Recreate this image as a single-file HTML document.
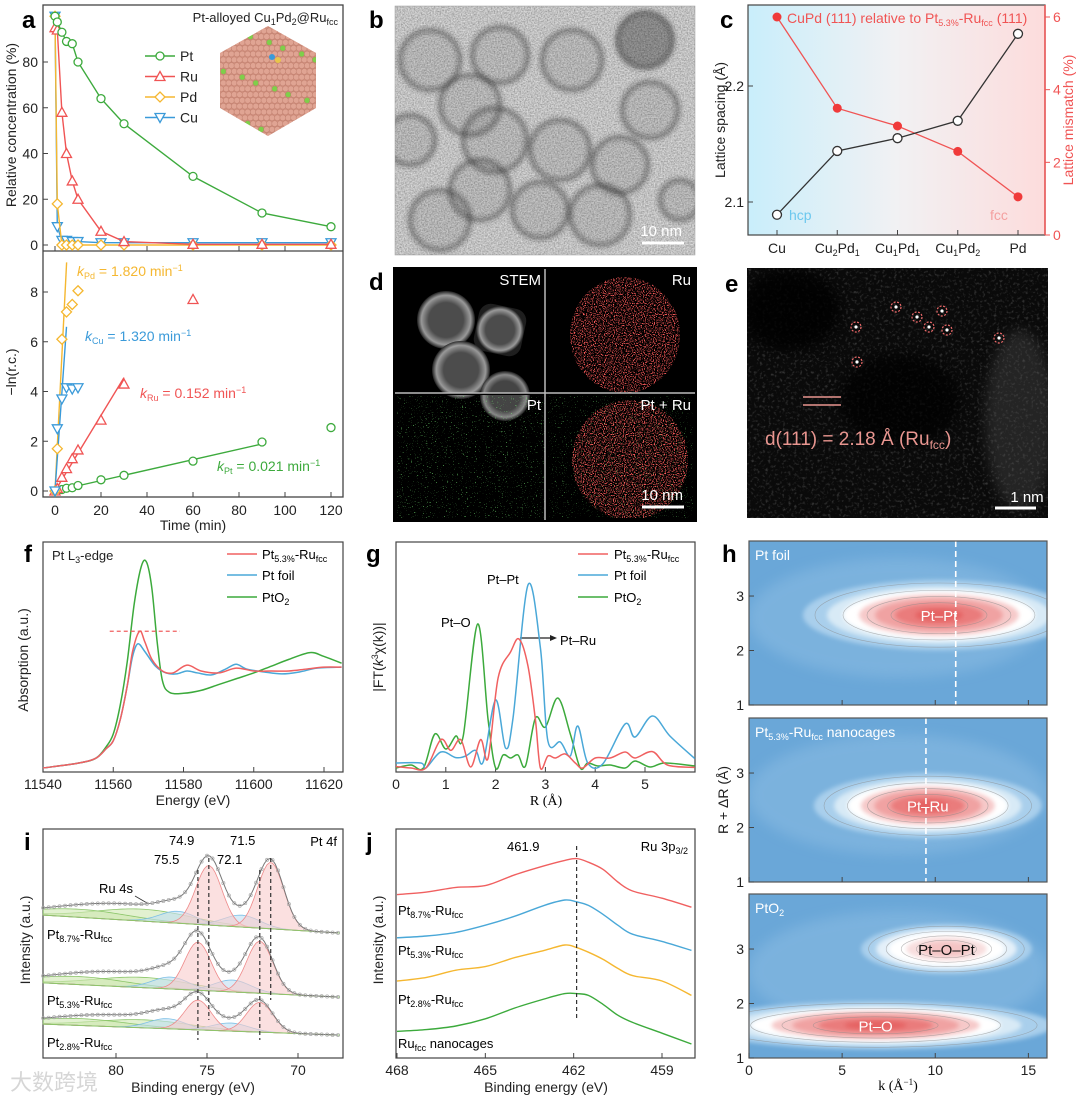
<!DOCTYPE html>
<html><head><meta charset="utf-8"><title>Figure</title>
<style>
html,body{margin:0;padding:0;background:#fff;}
svg{display:block;font-family:"Liberation Sans","Noto Sans CJK SC",sans-serif;}
.tk{font-size:14px;fill:#222;}
.ttl{font-size:14px;fill:#222;}
.pl{font-size:24px;font-weight:bold;fill:#000;}
</style></head>
<body>
<svg id="fig" width="1080" height="1099" viewBox="0 0 1080 1099" xmlns="http://www.w3.org/2000/svg">
<defs>
 <filter id="grain" x="0" y="0" width="100%" height="100%"><feTurbulence type="fractalNoise" baseFrequency="0.7" numOctaves="2" seed="5"/><feColorMatrix type="matrix" values="0.7 0 0 0 0.18  0.7 0 0 0 0.18  0.7 0 0 0 0.18  0 0 0 0 1"/></filter>
 <filter id="speckR" x="0" y="0" width="100%" height="100%"><feTurbulence type="fractalNoise" baseFrequency="0.9" numOctaves="1" seed="3"/><feColorMatrix type="matrix" values="0 0 0 0 0.95  0 0 0 0 0.1  0 0 0 0 0.1  7 0 0 0 -3.6"/><feComposite in2="SourceGraphic" operator="in"/></filter>
 <filter id="speckG" x="0" y="0" width="100%" height="100%"><feTurbulence type="fractalNoise" baseFrequency="0.9" numOctaves="1" seed="11"/><feColorMatrix type="matrix" values="0 0 0 0 0.2  0 0 0 0 0.9  0 0 0 0 0.2  12 0 0 0 -8.2"/><feComposite in2="SourceGraphic" operator="in"/></filter>
 <filter id="speckW" x="0" y="0" width="100%" height="100%"><feTurbulence type="fractalNoise" baseFrequency="0.35" numOctaves="2" seed="8"/><feColorMatrix type="matrix" values="0 0 0 0 0.8  0 0 0 0 0.8  0 0 0 0 0.8  3 0 0 0 -1.6"/></filter>
 <filter id="blur4"><feGaussianBlur stdDeviation="6"/></filter>
 <filter id="blur2"><feGaussianBlur stdDeviation="2"/></filter>
 <linearGradient id="cbg" x1="0" x2="1" y1="0" y2="0"><stop offset="0" stop-color="#c9eefb"/><stop offset="0.5" stop-color="#f1f1f3"/><stop offset="1" stop-color="#fddcdc"/></linearGradient>
 <radialGradient id="stemp" cx="0.5" cy="0.5" r="0.5"><stop offset="0.6" stop-color="#555"/><stop offset="0.85" stop-color="#aaa"/><stop offset="1" stop-color="#222"/></radialGradient>
 <clipPath id="cb"><rect x="395" y="6" width="300" height="249"/></clipPath>
 <clipPath id="ce"><rect x="747" y="268" width="301" height="250"/></clipPath>
 <clipPath id="ch1"><rect x="749" y="541" width="298" height="164"/></clipPath>
 <clipPath id="ch2"><rect x="749" y="718" width="298" height="164"/></clipPath>
 <clipPath id="ch3"><rect x="749" y="894" width="298" height="164"/></clipPath>
 <clipPath id="chex"><polygon points="268,26 316,53 316,108 268,136 220,108 220,53"/></clipPath>
</defs>

<text class="pl" x="22" y="28">a</text>
<text class="pl" x="369" y="28">b</text>
<text class="pl" x="720" y="28">c</text>
<text class="pl" x="369" y="290">d</text>
<text class="pl" x="725" y="292">e</text>
<text class="pl" x="24" y="562">f</text>
<text class="pl" x="366" y="562">g</text>
<text class="pl" x="722" y="562">h</text>
<text class="pl" x="24" y="850">i</text>
<text class="pl" x="366" y="850">j</text>

<g>
 <rect x="43" y="5" width="300" height="492" fill="none" stroke="#444" stroke-width="1.3"/>
 <line x1="43" y1="251" x2="343" y2="251" stroke="#444" stroke-width="1.3"/>
 <text x="338" y="22" text-anchor="end" font-size="13" fill="#222">Pt-alloyed Cu<tspan font-size="9" dy="3">1</tspan><tspan dy="-3">Pd</tspan><tspan font-size="9" dy="3">2</tspan><tspan dy="-3">@Ru</tspan><tspan font-size="9" dy="3">fcc</tspan></text>
 <text transform="translate(16,125) rotate(-90)" text-anchor="middle" class="ttl">Relative concentration (%)</text>
 <text transform="translate(16,372) rotate(-90)" text-anchor="middle" class="ttl">−ln(r.c.)</text>
 <text x="193" y="530" text-anchor="middle" class="ttl">Time (min)</text>
 <g id="aInset"></g>
 <text x="77" y="276" font-size="14" fill="#f5b730"><tspan font-style="italic">k</tspan><tspan font-size="9" dy="3">Pd</tspan><tspan dy="-3"> = 1.820 min</tspan><tspan font-size="9" dy="-5">−1</tspan></text>
 <text x="85" y="341" font-size="14" fill="#3a9ad9"><tspan font-style="italic">k</tspan><tspan font-size="9" dy="3">Cu</tspan><tspan dy="-3"> = 1.320 min</tspan><tspan font-size="9" dy="-5">−1</tspan></text>
 <text x="140" y="398" font-size="14" fill="#f05454"><tspan font-style="italic">k</tspan><tspan font-size="9" dy="3">Ru</tspan><tspan dy="-3"> = 0.152 min</tspan><tspan font-size="9" dy="-5">−1</tspan></text>
 <text x="217" y="471" font-size="14" fill="#3daa3d"><tspan font-style="italic">k</tspan><tspan font-size="9" dy="3">Pt</tspan><tspan dy="-3"> = 0.021 min</tspan><tspan font-size="9" dy="-5">−1</tspan></text>
</g>

<g>
 <rect x="395" y="6" width="300" height="249" filter="url(#grain)"/>
 <g id="bRings" clip-path="url(#cb)" filter="url(#blur2)"></g>
 <rect x="395" y="6" width="300" height="249" fill="none" stroke="#999" stroke-width="0.5"/>
 <text x="682" y="236" text-anchor="end" font-size="15" fill="#fff">10 nm</text>
 <line x1="642" y1="243" x2="684" y2="243" stroke="#fff" stroke-width="3"/>
</g>

<g>
 <rect x="395" y="269" width="300" height="251" fill="#000"/>
 <g>
  <circle cx="446" cy="320" r="29" fill="url(#stemp)" opacity="0.9"/>
  <rect x="476" y="306" width="48" height="48" rx="12" fill="url(#stemp)" opacity="0.9" transform="rotate(12 500 330)"/>
  <circle cx="461" cy="370" r="29" fill="url(#stemp)" opacity="0.9"/>
  <circle cx="505" cy="396" r="25" fill="url(#stemp)" opacity="0.8"/>
  <rect x="395" y="393" width="150" height="2" fill="#000"/>
 </g>
 <ellipse cx="625" cy="335" rx="55" ry="58" fill="#fff" filter="url(#speckR)"/>
 <ellipse cx="630" cy="460" rx="58" ry="60" fill="#fff" filter="url(#speckR)"/>
 <rect x="395" y="396" width="150" height="124" fill="#fff" filter="url(#speckG)"/>
 <rect x="548" y="396" width="147" height="124" fill="#fff" filter="url(#speckG)" opacity="0.8"/>
 <rect x="395" y="269" width="300" height="251" fill="none" stroke="#000" stroke-width="4"/>
 <line x1="545" y1="269" x2="545" y2="520" stroke="#bbb" stroke-width="1.5"/>
 <line x1="395" y1="393" x2="695" y2="393" stroke="#bbb" stroke-width="1.5"/>
 <text x="541" y="285" text-anchor="end" font-size="15" fill="#fff">STEM</text>
 <text x="691" y="285" text-anchor="end" font-size="15" fill="#fff">Ru</text>
 <text x="541" y="410" text-anchor="end" font-size="15" fill="#fff">Pt</text>
 <text x="691" y="410" text-anchor="end" font-size="15" fill="#fff">Pt + Ru</text>
 <text x="683" y="500" text-anchor="end" font-size="15" fill="#fff">10 nm</text>
 <line x1="642" y1="507" x2="684" y2="507" stroke="#fff" stroke-width="3"/>
</g>

<g clip-path="url(#ce)">
 <rect x="747" y="268" width="301" height="250" fill="#0a0a0a"/>
 <rect x="747" y="268" width="301" height="250" fill="#fff" filter="url(#speckW)" opacity="0.2"/>
 <ellipse cx="790" cy="310" rx="50" ry="40" fill="#000" opacity="0.8" filter="url(#blur4)"/>
 <ellipse cx="900" cy="400" rx="60" ry="45" fill="#000" opacity="0.7" filter="url(#blur4)"/>
 <ellipse cx="1020" cy="420" rx="35" ry="90" fill="#555" opacity="0.35" filter="url(#blur4)"/>
 <g id="eCircles"></g>
 <line x1="803" y1="397" x2="841" y2="397" stroke="#e99690" stroke-width="1.6"/>
 <line x1="803" y1="405" x2="841" y2="405" stroke="#e99690" stroke-width="1.6"/>
 <text x="765" y="445" font-size="19" fill="#e99690">d(111) = 2.18 Å (Ru<tspan font-size="12" dy="4">fcc</tspan><tspan dy="-4">)</tspan></text>
 <text x="1027" y="502" text-anchor="middle" font-size="15" fill="#fff">1 nm</text>
 <line x1="995" y1="508" x2="1036" y2="508" stroke="#fff" stroke-width="3"/>
</g>

<g>
 <rect x="748" y="5" width="297" height="230" fill="url(#cbg)" stroke="#444" stroke-width="1.2"/>
 <line x1="1045" y1="5" x2="1045" y2="235" stroke="#f05454" stroke-width="1.5"/>
 <text x="787" y="23" font-size="14" fill="#f05454">CuPd (111) relative to Pt<tspan font-size="9" dy="3">5.3%</tspan><tspan dy="-3">-Ru</tspan><tspan font-size="9" dy="3">fcc</tspan><tspan dy="-3"> (111)</tspan></text>
 <text x="789" y="220" font-size="14" fill="#6cc8ee">hcp</text>
 <text x="990" y="220" font-size="14" fill="#f4a0a0">fcc</text>
 <text transform="translate(725,120) rotate(-90)" text-anchor="middle" class="ttl">Lattice spacing (Å)</text>
 <text transform="translate(1073,120) rotate(-90)" text-anchor="middle" font-size="14" fill="#f05454">Lattice mismatch (%)</text>
</g>

<g>
 <rect x="43" y="542" width="300" height="230" fill="none" stroke="#444" stroke-width="1.2"/>
 <text x="52" y="560" font-size="13" fill="#222">Pt L<tspan font-size="9" dy="3">3</tspan><tspan dy="-3">-edge</tspan></text>
 <text transform="translate(28,660) rotate(-90)" text-anchor="middle" class="ttl">Absorption (a.u.)</text>
 <text x="193" y="805" text-anchor="middle" class="ttl">Energy (eV)</text>
 <line x1="227" y1="554" x2="257" y2="554" stroke="#f06060" stroke-width="1.5"/><text x="262" y="559" font-size="13">Pt<tspan font-size="9" dy="3">5.3%</tspan><tspan dy="-3">-Ru</tspan><tspan font-size="9" dy="3">fcc</tspan></text>
 <line x1="227" y1="575" x2="257" y2="575" stroke="#4aa8d8" stroke-width="1.5"/><text x="262" y="580" font-size="13">Pt foil</text>
 <line x1="227" y1="597" x2="257" y2="597" stroke="#3caa3c" stroke-width="1.5"/><text x="262" y="602" font-size="13">PtO<tspan font-size="9" dy="3">2</tspan></text>
</g>

<g>
 <rect x="396" y="542" width="299" height="230" fill="none" stroke="#444" stroke-width="1.2"/>
 <text transform="translate(383,657) rotate(-90)" text-anchor="middle" class="ttl">|FT(<tspan font-style="italic">k</tspan><tspan font-size="9" dy="-5">3</tspan><tspan dy="5">χ(k))|</tspan></text>
 <text x="546" y="805" text-anchor="middle" font-size="14" font-family="Liberation Serif">R (Å)</text>
 <line x1="578" y1="554" x2="608" y2="554" stroke="#f06060" stroke-width="1.5"/><text x="614" y="559" font-size="13">Pt<tspan font-size="9" dy="3">5.3%</tspan><tspan dy="-3">-Ru</tspan><tspan font-size="9" dy="3">fcc</tspan></text>
 <line x1="578" y1="575" x2="608" y2="575" stroke="#4aa8d8" stroke-width="1.5"/><text x="614" y="580" font-size="13">Pt foil</text>
 <line x1="578" y1="597" x2="608" y2="597" stroke="#3caa3c" stroke-width="1.5"/><text x="614" y="602" font-size="13">PtO<tspan font-size="9" dy="3">2</tspan></text>
 <text x="441" y="627" font-size="13">Pt–O</text>
 <text x="487" y="584" font-size="13">Pt–Pt</text>
 <text x="560" y="645" font-size="13">Pt–Ru</text>
 <line x1="520" y1="638" x2="552" y2="638" stroke="#222" stroke-width="1.2"/><polygon points="557,638 550,635 550,641" fill="#222"/>
</g>

<g>
 <rect x="43" y="829" width="300" height="229" fill="none" stroke="#444" stroke-width="1.2"/>
 <text transform="translate(30,940) rotate(-90)" text-anchor="middle" class="ttl">Intensity (a.u.)</text>
 <text x="193" y="1092" text-anchor="middle" class="ttl">Binding energy (eV)</text>
 <text x="337" y="846" text-anchor="end" font-size="13">Pt 4f</text>
 <text x="169" y="845" font-size="13">74.9</text>
 <text x="230" y="845" font-size="13">71.5</text>
 <text x="154" y="864" font-size="13">75.5</text>
 <text x="217" y="864" font-size="13">72.1</text>
 <text x="99" y="893" font-size="13">Ru 4s</text>
 <line x1="135" y1="896" x2="147" y2="903" stroke="#333" stroke-width="0.8"/>
 <text x="47" y="939" font-size="13">Pt<tspan font-size="9" dy="3">8.7%</tspan><tspan dy="-3">-Ru</tspan><tspan font-size="9" dy="3">fcc</tspan></text>
 <text x="47" y="1005" font-size="13">Pt<tspan font-size="9" dy="3">5.3%</tspan><tspan dy="-3">-Ru</tspan><tspan font-size="9" dy="3">fcc</tspan></text>
 <text x="47" y="1047" font-size="13">Pt<tspan font-size="9" dy="3">2.8%</tspan><tspan dy="-3">-Ru</tspan><tspan font-size="9" dy="3">fcc</tspan></text>
 <text x="10" y="1090" font-size="22" fill="#ccc" opacity="0.8">大数跨境</text>
</g>

<g>
 <rect x="396" y="829" width="299" height="229" fill="none" stroke="#444" stroke-width="1.2"/>
 <text transform="translate(383,940) rotate(-90)" text-anchor="middle" class="ttl">Intensity (a.u.)</text>
 <text x="546" y="1092" text-anchor="middle" class="ttl">Binding energy (eV)</text>
 <text x="688" y="851" text-anchor="end" font-size="13">Ru 3p<tspan font-size="9" dy="3">3/2</tspan></text>
 <text x="507" y="851" font-size="13">461.9</text>
 <text x="398" y="915" font-size="13">Pt<tspan font-size="9" dy="3">8.7%</tspan><tspan dy="-3">-Ru</tspan><tspan font-size="9" dy="3">fcc</tspan></text>
 <text x="398" y="955" font-size="13">Pt<tspan font-size="9" dy="3">5.3%</tspan><tspan dy="-3">-Ru</tspan><tspan font-size="9" dy="3">fcc</tspan></text>
 <text x="398" y="1004" font-size="13">Pt<tspan font-size="9" dy="3">2.8%</tspan><tspan dy="-3">-Ru</tspan><tspan font-size="9" dy="3">fcc</tspan></text>
 <text x="398" y="1048" font-size="13">Ru<tspan font-size="9" dy="3">fcc</tspan><tspan dy="-3"> nanocages</tspan></text>
</g>

<g>
 <text transform="translate(728,800) rotate(-90)" text-anchor="middle" class="ttl">R + ΔR (Å)</text>
 <text x="898" y="1090" text-anchor="middle" font-size="14" font-family="Liberation Serif">k (Å<tspan font-size="9" dy="-5">−1</tspan><tspan dy="5">)</tspan></text>
</g>
</svg>

<script>
const NS='http://www.w3.org/2000/svg';
const svg=document.getElementById('fig');
function el(tag,attrs,parent){const e=document.createElementNS(NS,tag);for(const k in attrs)e.setAttribute(k,attrs[k]);(parent||svg).appendChild(e);return e;}
function lin(d0,d1,r0,r1){return v=>r0+(v-d0)*(r1-r0)/(d1-d0);}
function smooth(p){let d='M'+p[0][0]+','+p[0][1];for(let i=0;i<p.length-1;i++){const p0=p[i-1]||p[i],p1=p[i],p2=p[i+1],p3=p[i+2]||p2;d+='C'+(p1[0]+(p2[0]-p0[0])/6)+','+(p1[1]+(p2[1]-p0[1])/6)+' '+(p2[0]-(p3[0]-p1[0])/6)+','+(p2[1]-(p3[1]-p1[1])/6)+' '+p2[0]+','+p2[1];}return d;}
function tickText(x,y,s,anchor,fill){const t=el('text',{x:x,y:y,'text-anchor':anchor||'middle','font-size':14,fill:fill||'#222'});t.textContent=s;return t;}
function sub(parent,txt,size,dy){const t=el('tspan',{'font-size':size||14,dy:dy||0},parent);t.textContent=txt;return t;}

/* ================= PANEL A DATA ================= */
const aTime=[0,1,3,5,7.5,10,20,30,60,90,120];
const aPt=[100,97.5,93,89,88,80,64,53,30,14,8];
const aRu=[95,94,58,40,28,20,6,1.5,0.3,0.3,0.3];
const aPd=[100,18,0,0,0,0,0,0,0,0,0];
const aCu=[100,8,2,2,1.5,1.5,1,1,1,1,1];
const lnTimePt=[0,1,3,5,7.5,10,20,30,60,90,120];
const lnPt=[0,0.03,0.06,0.11,0.13,0.22,0.45,0.63,1.2,1.97,2.55];
const lnTimeRu=[0,1,3,5,7.5,10,20,30,60];
const lnRu=[0,0.1,0.55,0.9,1.3,1.65,2.85,4.3,7.7];
const lnTimePd=[0,1,3,5,7.5,10];
const lnPd=[0,1.7,6.1,7.2,7.5,8.05];
const lnTimeCu=[0,1,3,5,7.5,10];
const lnCu=[0,2.5,3.7,4.15,4.1,4.15];
const kNames=['Pt','Ru','Pd','Cu'];
const kRates=[0.021,0.152,1.820,1.320];
const kFitEnd=[90,30,5.05,5];
const aXTicks=[0,20,40,60,80,100,120];
const aTopTicks=[0,20,40,60,80];
const aBotTicks=[0,2,4,6,8];

const ax=lin(0,120,55,331), ayT=lin(0,80,245,62), ayB=lin(0,8,491,292);
const aCol={Pt:'#3daa3d',Ru:'#f05454',Pd:'#f5b730',Cu:'#3a9ad9'};
function marker(shape,x,y,col,name){let m;
 if(shape==='Pt') m=el('circle',{cx:x,cy:y,r:4,fill:'#fff',stroke:col,'stroke-width':1.3});
 else if(shape==='Ru') m=el('polygon',{points:`${x},${y-5} ${x+5},${y+4} ${x-5},${y+4}`,fill:'#fff',stroke:col,'stroke-width':1.3});
 else if(shape==='Pd') m=el('polygon',{points:`${x},${y-5} ${x+5},${y} ${x},${y+5} ${x-5},${y}`,fill:'#fff',stroke:col,'stroke-width':1.3});
 else m=el('polygon',{points:`${x-5},${y-4} ${x+5},${y-4} ${x},${y+5}`,fill:'#fff',stroke:col,'stroke-width':1.3});
 
 
 return m;}
aXTicks.forEach(v=>{const x=ax(v);el('line',{x1:x,y1:497,x2:x,y2:492,stroke:'#444'});el('line',{x1:x,y1:251,x2:x,y2:246,stroke:'#444'});
 const t=tickText(x,515,String(v));
 
 });
aTopTicks.forEach(v=>{const y=ayT(v);el('line',{x1:43,y1:y,x2:48,y2:y,stroke:'#444'});
 const t=tickText(38,y+5,String(v),'end');
 
 });
aBotTicks.forEach(v=>{const y=ayB(v);el('line',{x1:43,y1:y,x2:48,y2:y,stroke:'#444'});
 const t=tickText(38,y+5,String(v),'end');
 
 });
[['Cu',aCu],['Pd',aPd],['Ru',aRu],['Pt',aPt]].forEach(([n,arr])=>{
 const p=el('polyline',{points:aTime.map((t,i)=>ax(t)+','+ayT(arr[i])).join(' '),fill:'none',stroke:aCol[n],'stroke-width':1.4});
 
 
 aTime.forEach((t,i)=>marker(n,ax(t),ayT(arr[i]),aCol[n],'conc-point-'+n.toLowerCase()));});
['Pt','Ru','Pd','Cu'].forEach((n,i)=>{const y=56+i*20.5;
 el('line',{x1:145,y1:y,x2:175,y2:y,stroke:aCol[n],'stroke-width':1.4});
 marker(n,160,y,aCol[n],'legend-marker-'+n.toLowerCase());
 const t=el('text',{x:180,y:y+5,'font-size':14,fill:'#222'});t.textContent=n;
 
 });
(function(){const g=document.getElementById('aInset');
 const cl=el('g',{'clip-path':'url(#chex)'},g);
 el('polygon',{points:'268,26 316,53 316,108 268,136 220,108 220,53',fill:'#d4907e'},cl);
 for(let r=0;r<20;r++)for(let c=0;c<20;c++){const x=218+c*5.4+(r%2)*2.7,y=25+r*5.8;
  const green=((r*7+c*13)%23===0);
  el('circle',{cx:x,cy:y,r:2.9,fill:green?'#7fcf4a':'#e0a493',stroke:'#b87868','stroke-width':0.4},cl);}
 el('circle',{cx:272,cy:57,r:3,fill:'#3a9ad9'},cl);el('circle',{cx:278,cy:60,r:3,fill:'#e8c64a'},cl);
})();
const lnSets={Pt:[lnTimePt,lnPt],Ru:[lnTimeRu,lnRu],Pd:[lnTimePd,lnPd],Cu:[lnTimeCu,lnCu]};
kNames.forEach((n,i)=>{const tEnd=kFitEnd[i];
 const l=el('line',{x1:ax(0),y1:ayB(0),x2:ax(tEnd),y2:ayB(kRates[i]*tEnd),stroke:aCol[n],'stroke-width':1.4});
 
 });
kNames.forEach(n=>{const [ts,vs]=lnSets[n];ts.forEach((t,i)=>marker(n,ax(t),ayB(vs[i]),aCol[n],'ln-point-'+n.toLowerCase()));});

/* ================= PANEL B rings ================= */
(function(){const g=document.getElementById('bRings');
 const rings=[[430,60,30],[500,55,28],[572,60,30],[645,40,28],[470,105,30],[650,110,28],[495,140,32],[560,150,30],[620,165,28],[480,190,30],[540,210,28],[600,215,30],[440,220,30],[410,140,25],[680,200,20]];
 rings.forEach((r,i)=>{el('circle',{cx:r[0],cy:r[1],r:r[2],fill:'#000','fill-opacity':i===3?0.3:0.08,stroke:'#222','stroke-width':5,'stroke-opacity':0.38},g);});})();

/* ================= PANEL E circles ================= */
(function(){const g=document.getElementById('eCircles');
 const pts=[[896,307],[917,317],[942,311],[929,327],[947,330],[856,327],[857,362],[999,338]];
 pts.forEach(p=>{el('circle',{cx:p[0],cy:p[1],r:5,fill:'none',stroke:'#f06b6b','stroke-width':1.2,'stroke-dasharray':'2,1.5'},g);el('circle',{cx:p[0],cy:p[1],r:1.6,fill:'#fff'},g);});})();

/* ================= PANEL C DATA ================= */
const cCategories=['Cu','Cu2Pd1','Cu1Pd1','Cu1Pd2','Pd'];
const cSpacing=[2.089,2.144,2.155,2.170,2.245];
const cMismatch=[6.0,3.49,3.0,2.3,1.05];
const cLeftTicks=[2.1,2.2];
const cRightTicks=[0,2,4,6];
const cx=lin(0,4,777,1018), cyL=lin(2.1,2.2,202,86), cyR=lin(0,6,235,17);
cLeftTicks.forEach(v=>{const y=cyL(v);el('line',{x1:748,y1:y,x2:753,y2:y,stroke:'#444'});
 const t=tickText(744,y+5,v.toFixed(1),'end');
 
 });
cRightTicks.forEach(v=>{const y=cyR(v);el('line',{x1:1045,y1:y,x2:1050,y2:y,stroke:'#f05454'});
 const t=tickText(1053,y+5,String(v),'start','#f05454');
 
 });
cCategories.forEach((c,i)=>{const x=cx(i);el('line',{x1:x,y1:235,x2:x,y2:230,stroke:'#444'});
 const t=el('text',{x:x,y:253,'text-anchor':'middle','font-size':14,fill:'#222'});
 const m=c.match(/^([A-Z][a-z])(\d?)([A-Z][a-z])?(\d?)$/);
 sub(t,m[1]);
 if(m[2]){sub(t,m[2],9,3);sub(t,m[3],14,-3);sub(t,m[4],9,3);}
 
 });
(function(){const pr=el('polyline',{points:cMismatch.map((v,i)=>cx(i)+','+cyR(v)).join(' '),fill:'none',stroke:'#f05454','stroke-width':1.3});
 
 
 cMismatch.forEach((v,i)=>{const m=el('circle',{cx:cx(i),cy:cyR(v),r:4.5,fill:'#f03a3a'});
  
  });
 const pb=el('polyline',{points:cSpacing.map((v,i)=>cx(i)+','+cyL(v)).join(' '),fill:'none',stroke:'#333','stroke-width':1.3});
 
 
 cSpacing.forEach((v,i)=>{const m=el('circle',{cx:cx(i),cy:cyL(v),r:4.5,fill:'#fff',stroke:'#333','stroke-width':1.3});
  
  });})();

/* ================= PANEL F DATA ================= */
const fTicks=[11540,11560,11580,11600,11620];
const fEnergyFoil=[11540,11550,11555,11558,11560,11562,11564,11565.5,11567,11569,11572,11575,11578,11581,11584,11588,11592,11595,11598,11603,11608,11613,11618,11625];
const fFoil=[0,0.05,0.1,0.2,0.28,0.5,0.85,1.15,1.28,1.2,1.05,0.98,0.97,1.0,0.98,0.96,1.02,1.07,1.02,0.99,0.97,0.99,1.03,1.04];
const fEnergyRu=[11540,11550,11555,11558,11560,11562,11564,11565.5,11567.5,11569,11571,11574,11577,11581,11585,11590,11595,11600,11605,11610,11615,11620,11625];
const fRu=[0,0.05,0.1,0.2,0.28,0.5,0.85,1.2,1.41,1.3,1.12,1.0,0.98,1.06,1.0,0.98,1.03,1.0,1.0,1.0,1.02,1.04,1.04];
const fEnergyO2=[11540,11550,11555,11558,11560,11562,11564,11566,11568,11569.5,11571,11572.5,11574,11576,11580,11585,11590,11595,11600,11605,11610,11616,11620,11625];
const fO2=[0,0.05,0.1,0.22,0.35,0.65,1.1,1.7,2.08,2.12,1.85,1.3,0.9,0.78,0.77,0.8,0.86,0.92,0.98,1.05,1.12,1.19,1.15,1.08];
const fx=lin(11540,11620,43,324), fy=lin(0,1,768,671);
fTicks.forEach(v=>{const x=fx(v);el('line',{x1:x,y1:772,x2:x,y2:767,stroke:'#444'});
 const t=tickText(x,789,String(v));
 
 });
[[fEnergyO2,fO2,'#3caa3c','pto2'],[fEnergyFoil,fFoil,'#4aa8d8','foil'],[fEnergyRu,fRu,'#f06060','ru']].forEach(([xs,ys,c,n])=>{
 const p=el('path',{d:smooth(xs.map((e,i)=>[fx(e),fy(ys[i])])),fill:'none',stroke:c,'stroke-width':1.5});
 
 });
(function(){const d=el('line',{x1:fx(11559),y1:fy(1.41),x2:fx(11579),y2:fy(1.41),stroke:'#f06060','stroke-width':1.3,'stroke-dasharray':'4,3'});
 
 })();

/* ================= PANEL G DATA ================= */
const gTicks=[0,1,2,3,4,5];
const gRfoil=[0,0.5,0.6,0.9,1.2,1.4,1.6,1.75,2.0,2.2,2.35,2.65,2.9,3.05,3.3,3.5,3.65,3.85,4.15,4.6,4.8,5.15,5.5,6.0];
const gFoil=[0.25,0.25,0,0.8,0.52,0.6,0.88,0.3,3.4,1.0,2.5,9.15,6.0,1.35,1.3,0.6,2.1,0.25,0.2,2.2,1.55,2.6,1.6,0.47];
const gRru=[0,0.3,0.6,0.9,1.1,1.3,1.5,1.7,1.85,2.05,2.3,2.47,2.65,2.8,2.9,3.05,3.2,3.4,3.6,3.75,4.0,4.3,4.6,4.8,5.15,5.45,6.0];
const gRu=[0.07,0,0,1.42,0.88,1.42,0.05,1.42,0.5,4.5,5.8,6.45,5.1,2.4,0,0.6,0.5,0.7,0.25,0,0.5,0.5,0.8,0.5,0.82,0.15,0.03];
const gRo2=[0,0.3,0.55,0.78,1.0,1.2,1.35,1.64,1.85,2.0,2.15,2.3,2.45,2.6,2.8,3.0,3.25,3.5,3.7,3.85,4.05,4.3,4.6,4.8,5.1,5.4,6.0];
const gO2=[0,0.15,0,1.7,0.95,1.6,1.6,7.2,2.4,0,0.65,0.5,0.65,0.1,2.5,2.05,3.5,1.7,0,0.25,0.1,0.15,0,0.35,0.05,0.25,0.1];
const gx=lin(0,5,396,645), gy=lin(0,1,768,748);
gTicks.forEach(v=>{const x=gx(v);el('line',{x1:x,y1:772,x2:x,y2:767,stroke:'#444'});
 const t=tickText(x,789,String(v));
 
 });
[[gRo2,gO2,'#3caa3c','pto2'],[gRfoil,gFoil,'#4aa8d8','foil'],[gRru,gRu,'#f06060','ru']].forEach(([xs,ys,c,n])=>{
 const p=el('path',{d:smooth(xs.map((e,i)=>[gx(e),gy(ys[i])])),fill:'none',stroke:c,'stroke-width':1.5});
 
 });

/* ================= PANEL I DATA ================= */
const iTicks=[80,75,70];
const iBaseLeft=[62.4,32.8,14.8];
const iBaseRight=[54.6,26.6,10];
const iRedCenters=[[74.9,71.5],[75.5,72.1],[75.5,72.1]];
const iRedHeights=[[26,29],[21,22.7],[13,13]];
const iBlueCenters=[[76.6,73.1],[77.0,73.6],[77.2,73.7]];
const iBlueHeights=[[5.2,5.2],[5.2,5.2],[4.4,3.5]];
const iGreenCenters=[78.5,82];
const iGreenHeights=[[5.2,3.5],[4.5,3.5],[3.5,3]];
const ix=lin(80,70,116,298), iy=lin(0,100,1058,829);
const E0=84,E1=67.7;
iTicks.forEach(v=>{const x=ix(v);el('line',{x1:x,y1:1058,x2:x,y2:1053,stroke:'#444'});
 const t=tickText(x,1075,String(v));
 
 });
function gauss(E,c,h,s){const z=(E-c)/s;return h*Math.exp(-0.5*z*z);}
(function(){const Es=[];for(let E=E0;E>=E1-0.001;E-=0.15)Es.push(+E.toFixed(2));
 for(let s=0;s<3;s++){
  const bg=E=>iBaseLeft[s]+(iBaseRight[s]-iBaseLeft[s])*(E0-E)/(E0-E1);
  const comps=[];
  iGreenCenters.forEach((c,k)=>comps.push({f:E=>gauss(E,c,iGreenHeights[s][k],2.6),fill:'#cfe8b0',stroke:'#8cc66a'}));
  iBlueCenters[s].forEach((c,k)=>comps.push({f:E=>gauss(E,c,iBlueHeights[s][k],1.0),fill:'#bfe0f4',stroke:'#7ec0e6'}));
  iRedCenters[s].forEach((c,k)=>comps.push({f:E=>gauss(E,c,iRedHeights[s][k],0.72),fill:'#f8cccc',stroke:'#ee8a8a'}));
  comps.forEach(cp=>{const top=Es.map(E=>[ix(E),iy(bg(E)+cp.f(E))]);const bot=Es.slice().reverse().map(E=>[ix(E),iy(bg(E))]);
   const p=el('path',{d:'M'+top.map(q=>q.join(',')).join('L')+'L'+bot.map(q=>q.join(',')).join('L')+'Z',fill:cp.fill,'fill-opacity':0.6,stroke:cp.stroke,'stroke-width':0.8});
   
   });
  el('line',{x1:ix(E0),y1:iy(bg(E0)),x2:ix(E1),y2:iy(bg(E1)),stroke:'#8cc66a','stroke-width':1});
  const env=Es.map(E=>[ix(E),iy(bg(E)+comps.reduce((a,cp)=>a+cp.f(E),0))]);
  const pe=el('polyline',{points:env.map(q=>q.join(',')).join(' '),fill:'none',stroke:'#777','stroke-width':1});
  
  
  env.forEach((q,k)=>{if(k%2===0)el('circle',{cx:q[0],cy:q[1],r:1.6,fill:'none',stroke:'#aaa','stroke-width':0.7});});
 }
 [[75.5,870,1040],[74.9,858,1020],[72.1,870,1040],[71.5,858,1000]].forEach(d=>{
  const l=el('line',{x1:ix(d[0]),y1:d[1],x2:ix(d[0]),y2:d[2],stroke:'#333','stroke-width':1.2,'stroke-dasharray':'4,3'});
  
  });
})();

/* ================= PANEL J DATA ================= */
const jTicks=[468,465,462,459];
const jEnergy=[468,467,466,465,464,463,462.3,461.9,461.5,461,460.5,460,459,458];
const jPt87=[2.15,2.22,2.35,2.4,2.7,2.95,3.1,3.15,3.05,2.85,2.5,2.25,2.05,1.8];
const jPt53=[0.95,1.0,1.1,1.3,1.55,1.85,2.0,1.95,1.85,1.6,1.3,1.05,0.85,0.6];
const jPt28=[-0.25,-0.15,0.05,0.15,0.4,0.6,0.75,0.68,0.55,0.35,0.1,-0.1,-0.25,-0.65];
const jRu=[-1.65,-1.6,-1.5,-1.3,-1.0,-0.75,-0.6,-0.6,-0.65,-0.9,-1.2,-1.4,-1.7,-2.0];
const jx=lin(468,459,397,662), jy=lin(0,1,972,936);
jTicks.forEach(v=>{const x=jx(v);el('line',{x1:x,y1:1058,x2:x,y2:1053,stroke:'#444'});
 const t=tickText(x,1075,String(v));
 
 });
[[jPt87,'#f06060','pt87'],[jPt53,'#4aa8d8','pt53'],[jPt28,'#f5b730','pt28'],[jRu,'#3caa3c','ru']].forEach(([ys,c,n])=>{
 const p=el('path',{d:smooth(jEnergy.map((e,i)=>[jx(e),jy(ys[i])])),fill:'none',stroke:c,'stroke-width':1.4});
 
 });
(function(){const l=el('line',{x1:jx(461.9),y1:846,x2:jx(461.9),y2:1020,stroke:'#333','stroke-width':1.2,'stroke-dasharray':'4,3'});
 
 })();

/* ================= PANEL H DATA ================= */
const hBlobK=[[10.2],[9.6],[6.8,10.6]];
const hBlobR=[[2.65],[2.4],[1.6,3.0]];
const hBlobWidthK=[[4.3],[3.6],[5.6,2.7]];
const hBlobWidthR=[[0.38],[0.35],[0.26,0.27]];
const hBlobStrength=[[1],[1],[1,0.45]];
const hBlobNames=[['Pt–Pt'],['Pt–Ru'],['Pt–O','Pt–O–Pt']];
const hDashK=[11.1,9.5,null];
const hXTicks=[0,5,10,15];
const hYTicks=[1,2,3];
const hx=lin(0,16,749,1047);
const hTops=[541,718,894];
(function(){
 for(let p=0;p<3;p++){
  const top=hTops[p],hy=lin(1,4.01,top+164,top);
  const g=el('g',{'clip-path':'url(#ch'+(p+1)+')'});
  
  
  el('rect',{x:749,y:top,width:298,height:164,fill:'#6aa7d8'},g);
  el('ellipse',{cx:hx(8),cy:hy(2.6),rx:150,ry:60,fill:'#8dbde3',opacity:0.5,filter:'url(#blur4)'},g);
  hBlobK[p].forEach((k,i)=>{const s=hBlobStrength[p][i];
   const bx=hx(k),by=hy(hBlobR[p][i]),rx=hBlobWidthK[p][i]*18.6,ry=hBlobWidthR[p][i]*54.5;
   const layers=s>0.6?[[1.7,'#a9cfec'],[1.4,'#d8eaf6'],[1.2,'#ffffff'],[1.0,'#f6c9c9'],[0.8,'#f0a2a2'],[0.55,'#ea7c7c'],[0.3,'#e56262']]:[[1.7,'#a9cfec'],[1.4,'#e4f0f9'],[1.15,'#ffffff'],[0.8,'#f8dede'],[0.5,'#f4c4c4']];
   layers.forEach(L=>{el('ellipse',{cx:bx,cy:by,rx:rx*L[0],ry:ry*L[0],fill:L[1],filter:'url(#blur2)'},g);});
   [1.55,1.2,0.9,0.6].forEach(f=>el('ellipse',{cx:bx,cy:by,rx:rx*f,ry:ry*f,fill:'none',stroke:'#888','stroke-width':0.6,opacity:0.6},g));
  });
  if(hDashK[p]!==null){const l=el('line',{x1:hx(hDashK[p]),y1:top,x2:hx(hDashK[p]),y2:top+164,stroke:'#fff','stroke-width':1.6,'stroke-dasharray':'6,4'},g);
   
   }
  hBlobK[p].forEach((k,i)=>{const t=el('text',{x:hx(k),y:hy(hBlobR[p][i])+6,'text-anchor':'middle','font-size':15,fill:hBlobStrength[p][i]>0.6?'#fff':'#111'});
   t.textContent=hBlobNames[p][i];
   
   });
  el('rect',{x:749,y:top,width:298,height:164,fill:'none',stroke:'#555','stroke-width':1.2});
  hYTicks.forEach(v=>{const y=hy(v);el('line',{x1:749,y1:y,x2:754,y2:y,stroke:'#444'});
   const t=tickText(744,y+5,String(v),'end');
   
   });
  hXTicks.forEach(v=>el('line',{x1:hx(v),y1:top+164,x2:hx(v),y2:top+159,stroke:'#444'}));
 }
 hXTicks.forEach(v=>{const t=tickText(hx(v),1075,String(v));
  
  });
 const t1=el('text',{x:755,y:560,'font-size':14,fill:'#fff'});
 t1.textContent='Pt foil';
 
 
 const t2=el('text',{x:755,y:hTops[1]+19,'font-size':14,fill:'#fff'});
 sub(t2,'Pt');sub(t2,'5.3%',9,3);sub(t2,'-Ru',14,-3);sub(t2,'fcc',9,3);sub(t2,' nanocages',14,-3);
 
 
 const t3=el('text',{x:755,y:hTops[2]+19,'font-size':14,fill:'#fff'});
 sub(t3,'PtO');sub(t3,'2',9,3);
 
 
})();
</script>
</body></html>
